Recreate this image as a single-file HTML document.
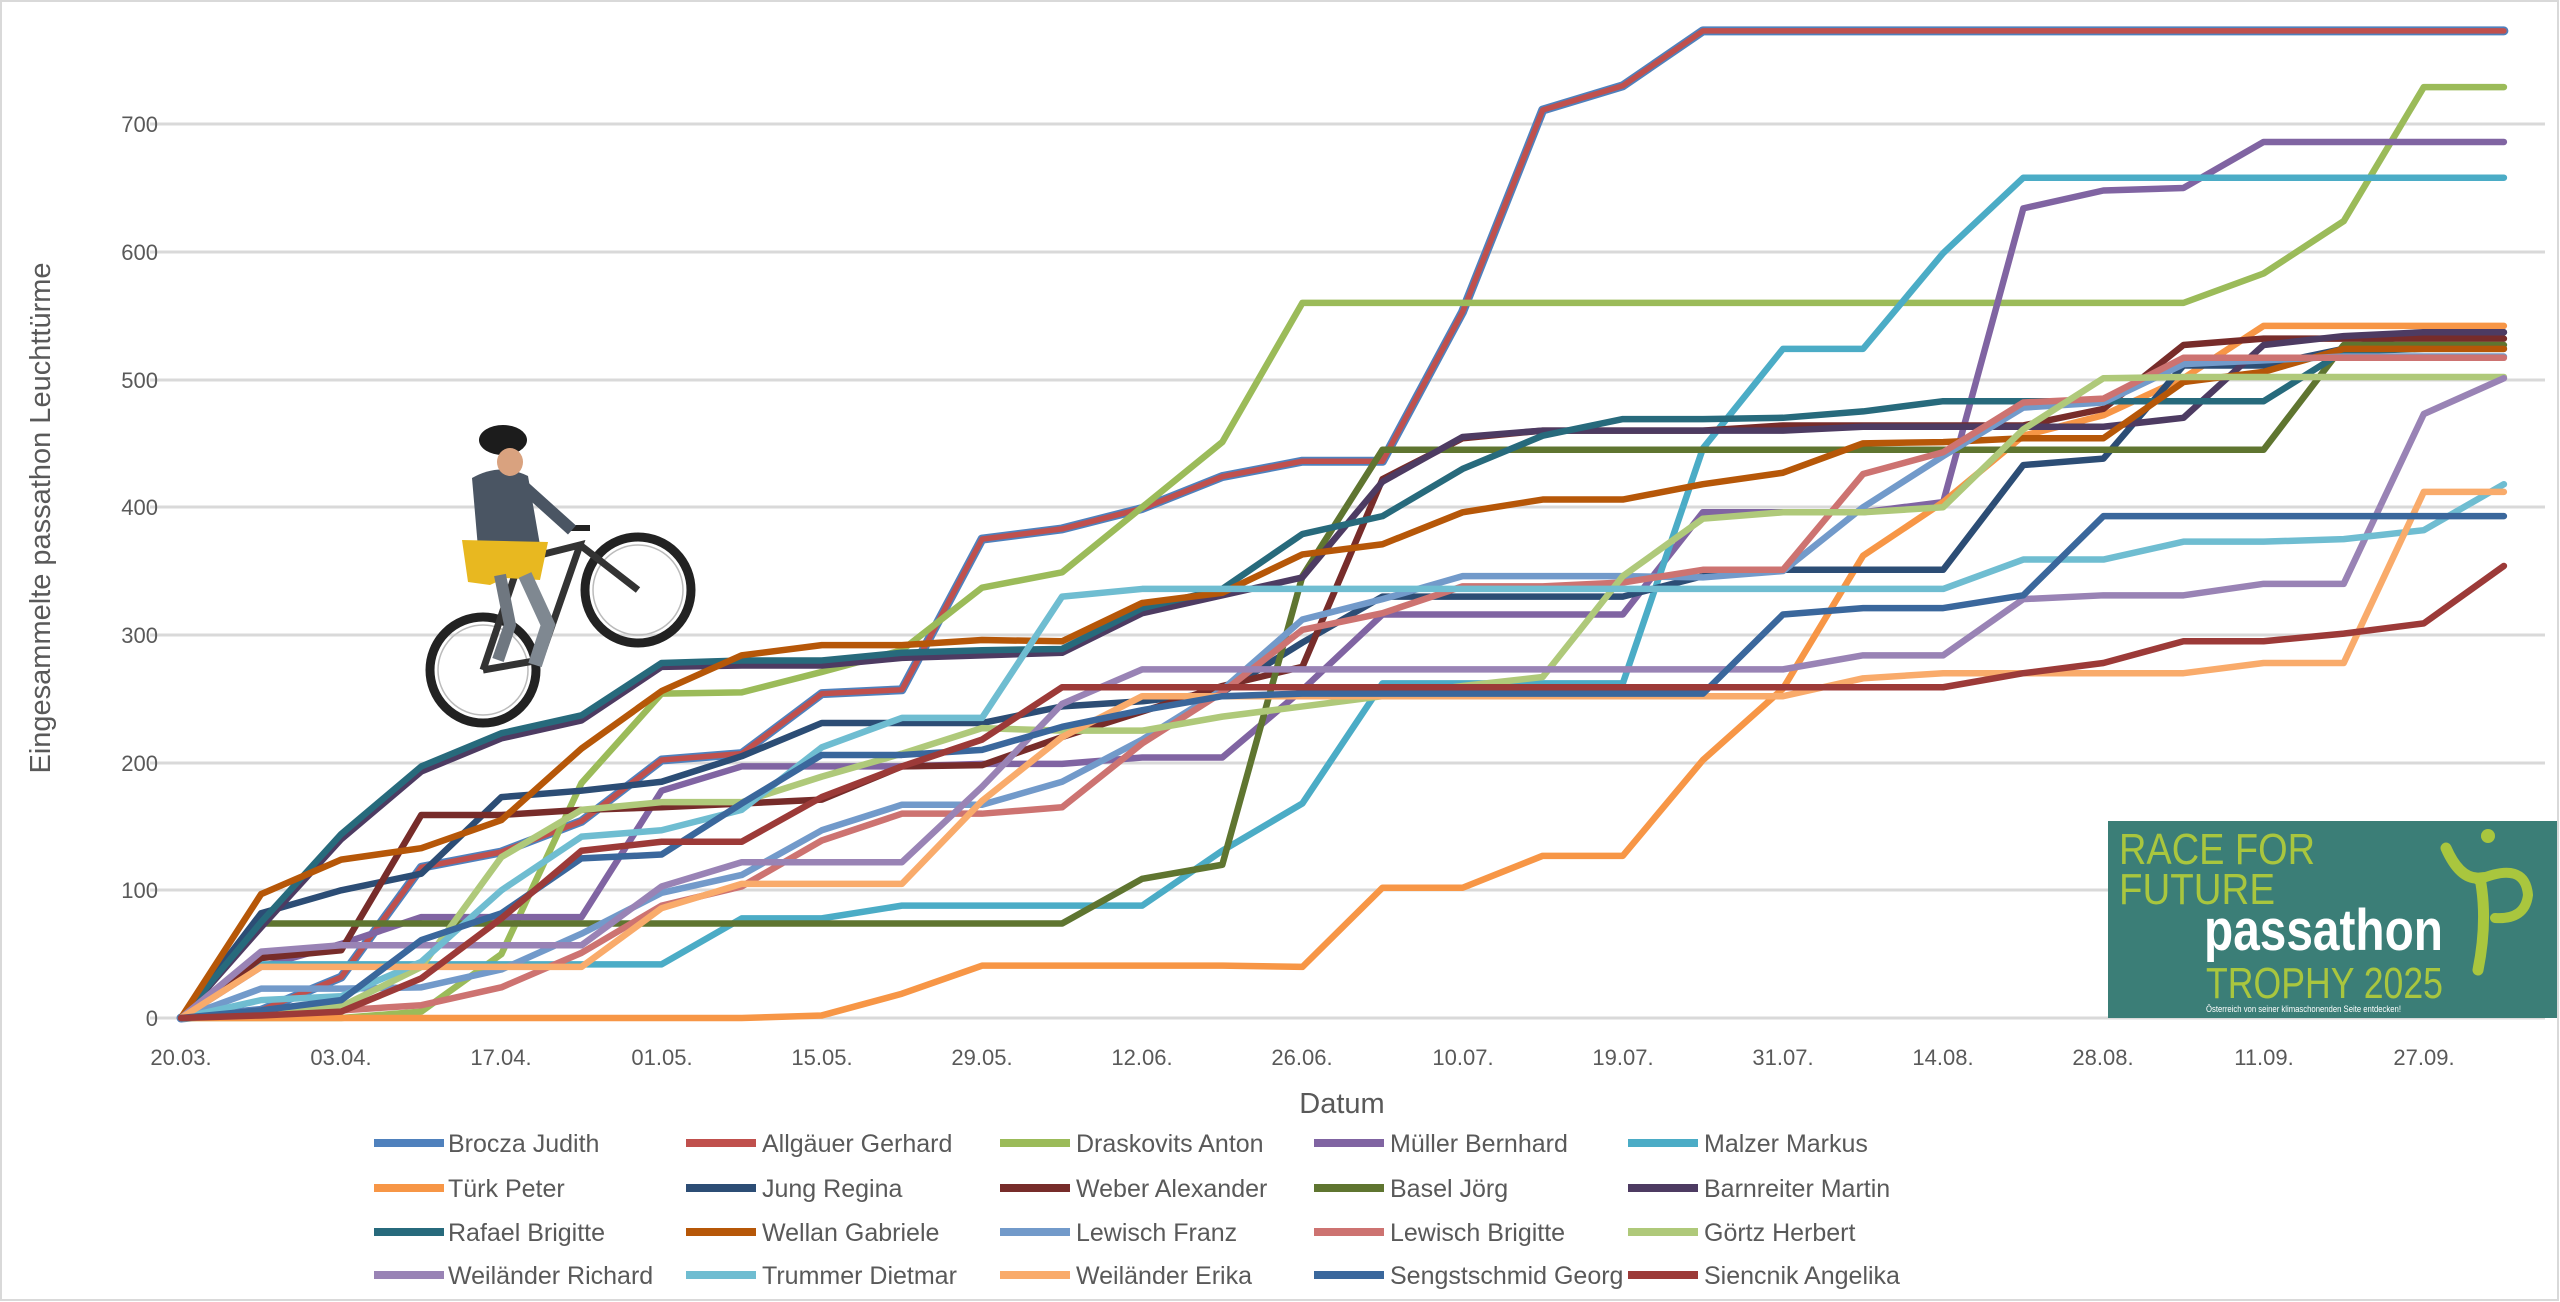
<!DOCTYPE html>
<html><head><meta charset="utf-8"><style>
html,body{margin:0;padding:0;background:#fff;}
svg{display:block;font-family:"Liberation Sans",sans-serif;}
</style></head><body>
<svg width="2560" height="1302" viewBox="0 0 2560 1302" xmlns="http://www.w3.org/2000/svg">
<rect x="1" y="1" width="2557" height="1299" fill="#fff" stroke="#d9d9d9" stroke-width="2"/>
<g stroke="#d9d9d9" stroke-width="3">
<line x1="150" x2="2545" y1="1018" y2="1018"/>
<line x1="150" x2="2545" y1="890" y2="890"/>
<line x1="150" x2="2545" y1="763" y2="763"/>
<line x1="150" x2="2545" y1="635" y2="635"/>
<line x1="150" x2="2545" y1="507" y2="507"/>
<line x1="150" x2="2545" y1="380" y2="380"/>
<line x1="150" x2="2545" y1="252" y2="252"/>
<line x1="150" x2="2545" y1="124" y2="124"/>
</g>
<g fill="#595959" font-size="22" text-anchor="end">
<text x="158" y="1026">0</text><text x="158" y="898">100</text><text x="158" y="771">200</text>
<text x="158" y="643">300</text><text x="158" y="515">400</text><text x="158" y="388">500</text>
<text x="158" y="260">600</text><text x="158" y="132">700</text>
</g>
<g fill="#595959" font-size="22" text-anchor="middle">
<text x="181" y="1065">20.03.</text><text x="341" y="1065">03.04.</text><text x="501" y="1065">17.04.</text>
<text x="662" y="1065">01.05.</text><text x="822" y="1065">15.05.</text><text x="982" y="1065">29.05.</text>
<text x="1142" y="1065">12.06.</text><text x="1302" y="1065">26.06.</text><text x="1463" y="1065">10.07.</text>
<text x="1623" y="1065">19.07.</text><text x="1783" y="1065">31.07.</text><text x="1943" y="1065">14.08.</text>
<text x="2103" y="1065">28.08.</text><text x="2264" y="1065">11.09.</text><text x="2424" y="1065">27.09.</text>
</g>
<text x="1342" y="1113" fill="#595959" font-size="29" text-anchor="middle">Datum</text>
<text transform="translate(50,518) rotate(-90)" fill="#595959" font-size="29" text-anchor="middle">Eingesammelte passathon Leuchttürme</text>

<!-- bike -->
<g>
<circle cx="483" cy="670" r="53" fill="none" stroke="#222" stroke-width="9"/>
<circle cx="483" cy="670" r="45" fill="none" stroke="#bbb" stroke-width="1.5"/>
<circle cx="638" cy="590" r="53" fill="none" stroke="#222" stroke-width="9"/>
<circle cx="638" cy="590" r="45" fill="none" stroke="#bbb" stroke-width="1.5"/>
<polyline points="483,670 540,660 580,545 520,560 483,670" fill="none" stroke="#333" stroke-width="7"/>
<line x1="580" y1="545" x2="638" y2="590" stroke="#333" stroke-width="7"/>
<line x1="565" y1="528" x2="590" y2="528" stroke="#222" stroke-width="6"/>
<path d="M472 478 Q500 462 528 476 L540 545 L478 548 Z" fill="#4a5563"/>
<path d="M462 540 L548 542 L540 580 L505 578 L490 585 L468 582 Z" fill="#e8b820"/>
<path d="M525 575 L548 625 L535 665" fill="none" stroke="#7f8891" stroke-width="14"/>
<path d="M500 575 L510 625 L498 660" fill="none" stroke="#6f7780" stroke-width="12"/>
<path d="M522 485 L572 530" fill="none" stroke="#4a5563" stroke-width="12"/>
<ellipse cx="503" cy="440" rx="24" ry="15" fill="#1c1c1c"/>
<ellipse cx="510" cy="462" rx="13" ry="14" fill="#d9a27f"/>
</g>

<g fill="none" stroke-linejoin="round" stroke-linecap="round" transform="translate(181,1018) scale(80.1,-1.277)">
<polyline vector-effect="non-scaling-stroke" stroke="#4F81BD" stroke-width="9" points="0,0 1,6 2,32 3,118 4,130 5,154 6,202 7,207 8,254 9,257 10,375 11,383 12,399 13,424 14,436 15,436 16,553 17,711 18,730 19,773 29,773"/>
<polyline vector-effect="non-scaling-stroke" stroke="#C0504D" stroke-width="5.5" points="0,0 1,6 2,32 3,118 4,130 5,154 6,202 7,207 8,254 9,257 10,375 11,383 12,399 13,424 14,436 15,436 16,553 17,711 18,730 19,773 29,773"/>
<polyline vector-effect="non-scaling-stroke" stroke="#9BBB59" stroke-width="6.5" points="0,0 1,0 2,0 3,5 4,50 5,184 6,254 7,255 8,271 9,288 10,337 11,349 12,400 13,451 14,560 25,560 26,583 27,624 28,729 29,729"/>
<polyline vector-effect="non-scaling-stroke" stroke="#8064A2" stroke-width="6.5" points="0,0 1,40 2,58 3,79 4,79 5,79 6,178 7,197 8,197 9,197 10,199 11,199 12,204 13,204 14,257 15,316 16,316 17,316 18,316 19,396 20,396 21,396 22,404 23,634 24,648 25,650 26,686 29,686"/>
<polyline vector-effect="non-scaling-stroke" stroke="#4BACC6" stroke-width="6.5" points="0,0 1,42 6,42 7,78 8,78 9,88 12,88 13,131 14,168 15,262 18,262 19,446 20,524 21,524 22,599 23,658 29,658"/>
<polyline vector-effect="non-scaling-stroke" stroke="#F79646" stroke-width="6.5" points="0,0 7,0 8,2 9,19 10,41 13,41 14,40 15,102 16,102 17,127 18,127 19,202 20,258 21,362 22,404 23,456 24,472 25,501 26,542 29,542"/>
<polyline vector-effect="non-scaling-stroke" stroke="#2C4D75" stroke-width="6.5" points="0,0 1,82 2,100 3,113 4,173 5,178 6,185 7,205 8,231 10,231 11,244 12,248 13,255 14,294 15,330 18,330 19,346 20,351 22,351 23,433 24,438 25,511 26,511 27,524 28,537 29,537"/>
<polyline vector-effect="non-scaling-stroke" stroke="#772C2A" stroke-width="6.5" points="0,0 1,47 2,53 3,159 4,159 5,163 6,165 7,168 8,171 9,197 10,198 11,220 12,240 13,260 14,275 15,422 16,454 17,460 19,460 20,464 23,464 24,477 25,527 26,532 29,532"/>
<polyline vector-effect="non-scaling-stroke" stroke="#5F7530" stroke-width="6.5" points="0,0 1,74 11,74 12,109 13,120 14,346 15,445 26,445 27,527 29,527"/>
<polyline vector-effect="non-scaling-stroke" stroke="#4D3B62" stroke-width="6.5" points="0,0 1,71 2,140 3,193 4,219 5,233 6,275 7,276 8,276 9,282 10,284 11,286 12,317 13,331 14,345 15,420 16,455 17,460 20,460 21,463 24,463 25,470 26,527 27,534 28,537 29,537"/>
<polyline vector-effect="non-scaling-stroke" stroke="#276A7C" stroke-width="6.5" points="0,0 1,75 2,144 3,197 4,223 5,237 6,278 7,280 8,280 9,286 10,288 11,289 12,321 13,336 14,379 15,393 16,430 17,456 18,469 19,469 20,470 21,475 22,483 26,483 27,522 28,524 29,524"/>
<polyline vector-effect="non-scaling-stroke" stroke="#B65708" stroke-width="6.5" points="0,0 1,97 2,124 3,133 4,155 5,211 6,256 7,284 8,292 9,292 10,296 11,295 12,325 13,333 14,363 15,371 16,396 17,406 18,406 19,418 20,427 21,450 22,451 23,454 24,454 25,498 26,506 27,524 29,524"/>
<polyline vector-effect="non-scaling-stroke" stroke="#729ACA" stroke-width="6.5" points="0,0 1,23 2,23 3,24 4,38 5,66 6,98 7,112 8,147 9,167 10,167 11,185 12,218 13,257 14,312 15,328 16,346 18,346 19,345 20,350 21,400 22,440 23,478 24,482 25,512 26,515 27,518 29,518"/>
<polyline vector-effect="non-scaling-stroke" stroke="#CD7371" stroke-width="6.5" points="0,0 1,6 2,6 3,10 4,24 5,51 6,88 7,103 8,139 9,160 10,160 11,165 12,215 13,255 14,304 15,317 16,338 17,338 18,341 19,351 20,351 21,426 22,443 23,482 24,485 25,517 29,517"/>
<polyline vector-effect="non-scaling-stroke" stroke="#AFC97A" stroke-width="6.5" points="0,0 1,3 2,9 3,40 4,126 5,163 6,169 7,169 8,189 9,207 10,227 11,225 12,225 13,236 14,244 15,252 16,260 17,267 18,346 19,391 20,396 21,396 22,400 23,461 24,501 25,502 29,502"/>
<polyline vector-effect="non-scaling-stroke" stroke="#9983B5" stroke-width="6.5" points="0,0 1,52 2,57 5,57 6,103 7,122 9,122 10,181 11,246 12,273 20,273 21,284 22,284 23,328 24,331 25,331 26,340 27,340 28,473 29,501"/>
<polyline vector-effect="non-scaling-stroke" stroke="#6FBDD1" stroke-width="6.5" points="0,0 1,14 2,17 3,44 4,100 5,142 6,147 7,163 8,212 9,235 10,235 11,330 12,336 22,336 23,359 24,359 25,373 26,373 27,375 28,382 29,418"/>
<polyline vector-effect="non-scaling-stroke" stroke="#F9AB6B" stroke-width="6.5" points="0,0 1,40 5,40 6,86 7,105 9,105 10,170 11,220 12,252 20,252 21,266 22,270 25,270 26,278 27,278 28,412 29,412"/>
<polyline vector-effect="non-scaling-stroke" stroke="#3A679C" stroke-width="6.5" points="0,0 1,6 2,14 3,61 4,82 5,125 6,128 7,168 8,206 9,206 10,210 11,228 12,241 13,252 14,254 19,254 20,316 21,321 22,321 23,331 24,393 29,393"/>
<polyline vector-effect="non-scaling-stroke" stroke="#9C3A38" stroke-width="6.5" points="0,0 1,2 2,5 3,31 4,78 5,131 6,138 7,138 8,173 9,197 10,218 11,259 22,259 23,270 24,278 25,295 26,295 27,301 28,309 29,354"/>
</g>

<!-- logo -->
<rect x="2108" y="821" width="449" height="197" fill="#3B7E77"/>
<g font-family="'Liberation Sans Narrow','Liberation Sans',sans-serif">
<text x="2119" y="864" fill="#A9C63E" font-size="44" textLength="196" lengthAdjust="spacingAndGlyphs">RACE FOR</text>
<text x="2119" y="904" fill="#A9C63E" font-size="44" textLength="156" lengthAdjust="spacingAndGlyphs">FUTURE</text>
<text x="2204" y="950" fill="#fff" font-size="58" font-weight="bold" textLength="239" lengthAdjust="spacingAndGlyphs">passathon</text>
<text x="2206" y="998" fill="#A9C63E" font-size="44" textLength="237" lengthAdjust="spacingAndGlyphs">TROPHY 2025</text>
<text x="2206" y="1012" fill="#fff" font-size="9" textLength="195" lengthAdjust="spacingAndGlyphs">Österreich von seiner klimaschonenden Seite entdecken!</text>
</g>
<g fill="none" stroke="#A9C63E" stroke-linecap="round">
<circle cx="2488" cy="836" r="7" fill="#A9C63E" stroke="none"/>
<path d="M2446 848 Q2460 880 2480 878 Q2488 920 2478 970" stroke-width="11"/>
<path d="M2478 880 Q2525 860 2528 895 Q2525 920 2495 918" stroke-width="10"/>
</g>

<!-- legend -->
<g font-size="25" fill="#595959">
<g stroke-width="8">
<line x1="374" x2="444" y1="1143" y2="1143" stroke="#4F81BD"/>
<line x1="686" x2="756" y1="1143" y2="1143" stroke="#C0504D"/>
<line x1="1000" x2="1070" y1="1143" y2="1143" stroke="#9BBB59"/>
<line x1="1314" x2="1384" y1="1143" y2="1143" stroke="#8064A2"/>
<line x1="1628" x2="1698" y1="1143" y2="1143" stroke="#4BACC6"/>
<line x1="374" x2="444" y1="1188" y2="1188" stroke="#F79646"/>
<line x1="686" x2="756" y1="1188" y2="1188" stroke="#2C4D75"/>
<line x1="1000" x2="1070" y1="1188" y2="1188" stroke="#772C2A"/>
<line x1="1314" x2="1384" y1="1188" y2="1188" stroke="#5F7530"/>
<line x1="1628" x2="1698" y1="1188" y2="1188" stroke="#4D3B62"/>
<line x1="374" x2="444" y1="1232" y2="1232" stroke="#276A7C"/>
<line x1="686" x2="756" y1="1232" y2="1232" stroke="#B65708"/>
<line x1="1000" x2="1070" y1="1232" y2="1232" stroke="#729ACA"/>
<line x1="1314" x2="1384" y1="1232" y2="1232" stroke="#CD7371"/>
<line x1="1628" x2="1698" y1="1232" y2="1232" stroke="#AFC97A"/>
<line x1="374" x2="444" y1="1275" y2="1275" stroke="#9983B5"/>
<line x1="686" x2="756" y1="1275" y2="1275" stroke="#6FBDD1"/>
<line x1="1000" x2="1070" y1="1275" y2="1275" stroke="#F9AB6B"/>
<line x1="1314" x2="1384" y1="1275" y2="1275" stroke="#3A679C"/>
<line x1="1628" x2="1698" y1="1275" y2="1275" stroke="#9C3A38"/>
</g>
<text x="448" y="1152">Brocza Judith</text><text x="762" y="1152">Allgäuer Gerhard</text><text x="1076" y="1152">Draskovits Anton</text><text x="1390" y="1152">Müller Bernhard</text><text x="1704" y="1152">Malzer Markus</text>
<text x="448" y="1197">Türk Peter</text><text x="762" y="1197">Jung Regina</text><text x="1076" y="1197">Weber Alexander</text><text x="1390" y="1197">Basel Jörg</text><text x="1704" y="1197">Barnreiter Martin</text>
<text x="448" y="1241">Rafael Brigitte</text><text x="762" y="1241">Wellan Gabriele</text><text x="1076" y="1241">Lewisch Franz</text><text x="1390" y="1241">Lewisch Brigitte</text><text x="1704" y="1241">Görtz Herbert</text>
<text x="448" y="1284">Weiländer Richard</text><text x="762" y="1284">Trummer Dietmar</text><text x="1076" y="1284">Weiländer Erika</text><text x="1390" y="1284">Sengstschmid Georg</text><text x="1704" y="1284">Siencnik Angelika</text>
</g>
</svg>
</body></html>
